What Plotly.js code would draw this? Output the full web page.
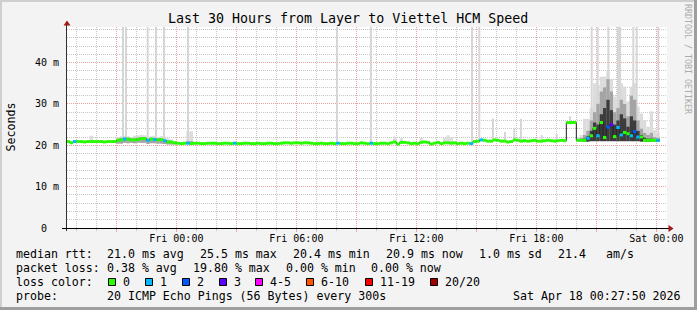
<!DOCTYPE html>
<html>
<head>
<meta charset="utf-8">
<script src="https://cdn.plot.ly/plotly-3.0.1.min.js"></script>
<style>
html,body{margin:0;padding:0;background:#f3f3f3;}
#chart{width:697px;height:310px;}
</style>
</head>
<body>
<div id="chart"></div>
<script>
// ---------------- DATA ----------------
const chartTitle = 'Last 30 Hours from Layer to Viettel HCM Speed';
const firstStep = '2026-04-16 18:30';   // start of the first 10-minute step
const stepMinutes = 10;

// median RTT (ms) per 10-minute step
const medianRtt = [
  20.9, 20.6, 20.9, 20.9, 20.9, 20.8, 20.9, 20.9, 20.9, 20.9,
  20.9, 20.8, 20.9, 20.9, 20.9, 21.2, 21.3, 21.5, 21.5, 21.3,
  21.3, 21.4, 21.6, 21.6, 21.2, 21.5, 21.4, 21.3, 21.4, 21.1,
  20.8, 20.8, 20.6, 20.5, 20.4, 20.5, 20.5, 20.4, 20.5, 20.5,
  20.4, 20.4, 20.5, 20.5, 20.5, 20.4, 20.4, 20.5, 20.5, 20.4,
  20.5, 20.4, 20.4, 20.5, 20.5, 20.4, 20.4, 20.5, 20.4, 20.4,
  20.5, 20.5, 20.4, 20.4, 20.5, 20.6, 20.6, 20.5, 20.6, 20.6,
  20.5, 20.6, 20.6, 20.5, 20.4, 20.4, 20.5, 20.4, 20.4, 20.5,
  20.4, 20.5, 20.4, 20.4, 20.5, 20.5, 20.4, 20.4, 20.6, 20.5,
  20.4, 20.5, 20.4, 20.4, 20.5, 20.5, 20.4, 20.6, 20.8, 20.3,
  20.7, 20.7, 20.6, 20.4, 20.5, 20.4, 20.7, 20.8, 20.7, 20.3,
  20.5, 20.7, 20.4, 20.6, 20.6, 20.5, 20.6, 20.4, 20.5, 20.4,
  20.5, 20.4, 20.9, 21.0, 21.3, 21.2, 21.0, 21.0, 21.3, 21.2,
  21.0, 21.0, 20.8, 20.9, 21.3, 21.2, 21.0, 21.1, 21.0, 21.1,
  21.2, 21.0, 21.0, 21.1, 21.2, 21.1, 21.0, 21.1, 21.2, 21.1,
  25.5, 25.5, 25.5, 21.2, 21.2, 21.2, 21.7, 22.3, 24.1, 22.3,
  25.5, 21.9, 24.4, 25.0, 22.1, 24.3, 22.5, 23.1, 22.8, 22.3,
  23.3, 22.0, 22.0, 21.2, 21.2, 21.2, 21.2, 21.2
];

// steps with lost pings (out of 20) - all other steps lost 0
const lossStep  = [2, 17, 24, 26, 29, 36, 50, 81, 91, 121, 124, 156, 159, 162, 163, 165, 166, 169, 170, 171, 177];
const lossPings = [1,  1,  1,  1,  1,  1,  1,  1,  1,   1,   1,   1,   1,   2,   3,   1,   1,   1,   2,   1,   1];

// smoke (ping spread) per step: min, max, upper-quartile-ish, dense core
const smokeStep  = [7, 15, 16, 17, 18, 19, 20, 21, 22, 23, 24, 25, 26, 27, 28, 29, 30, 31, 32, 36, 37,
                    98, 100, 106, 113, 114, 115,
                    153, 154, 155, 156, 157, 158, 159, 160, 161, 162, 163, 164, 165, 166, 167, 168, 169, 170,
                    171, 172, 173, 174, 175, 176, 177];
const smokeMin   = [20.6, 20.4, 20.4, 20.6, 20.5, 20.6, 20.5, 20.6, 20.6, 20.6, 20.3, 20.5, 20.5, 20.4, 20.4, 20.3, 20.2, 20.2, 20.2, 20.3, 20.3,
                    20.5, 20.5, 20.5, 20.4, 20.4, 20.4,
                    20.9, 20.9, 20.9, 20.9, 21.0, 21.0, 21.0, 21.0, 21.0, 21.0, 21.0, 21.0, 21.0, 21.0, 21.0, 21.0, 21.0, 21.0,
                    21.0, 20.9, 20.9, 20.9, 20.9, 20.9, 20.9];
const smokeMax   = [22.3, 22.0, 22.2, 22.3, 22.2, 22.0, 22.3, 22.4, 22.5, 22.4, 22.0, 22.2, 22.3, 22.0, 22.2, 21.8, 21.7, 21.4, 21.0, 23.4, 23.4,
                    22.1, 21.7, 21.8, 21.8, 22.4, 21.9,
                    22.0, 22.5, 26.4, 26.4, 29.0, 35.0, 34.6, 36.6, 36.6, 38.2, 36.0, 31.8, 31.0, 35.0, 34.2, 30.6, 34.2, 35.0,
                    29.4, 27.7, 26.1, 24.5, 28.2, 23.7, 23.0];
const smokeUpper = [null, 21.6, 21.8, 21.9, 21.8, 21.7, 21.8, 21.9, 22.0, 22.0, 21.6, 21.8, 21.8, 21.7, 21.7, 21.4, 21.2, 21.0, 20.8, 21.0, 21.0,
                    null, null, null, null, null, null,
                    21.5, 21.8, 22.5, 23.5, 26.0, 28.0, 30.0, 33.0, 34.0, 36.0, 33.0, 28.0, 29.0, 31.0, 30.0, 27.0, 32.0, 31.0,
                    26.0, 24.0, 23.0, 22.5, 23.0, 22.0, 21.8];
const smokeCore  = [null, null, null, null, null, null, null, null, null, null, null, null, null, null, null, null, null, null, null, null, null,
                    null, null, null, null, null, null,
                    null, null, 21.6, 22.2, 23.5, 25.5, 25.0, 27.5, 29.0, 31.0, 28.5, 25.0, 26.0, 27.5, 26.5, 24.5, 27.0, 26.0,
                    23.5, 22.5, 21.8, 21.6, 21.6, 21.4, 21.4];

// single-ping outliers (thin light smoke spikes)
const spikeTime = ['2026-04-16 21:20', '2026-04-16 21:29', '2026-04-16 22:34', '2026-04-16 22:59', '2026-04-16 23:23',
                   '2026-04-17 00:35', '2026-04-17 08:02', '2026-04-17 09:44', '2026-04-17 14:47', '2026-04-17 15:09',
                   '2026-04-17 15:50', '2026-04-17 16:26', '2026-04-17 16:54', '2026-04-17 17:14', '2026-04-17 18:16',
                   '2026-04-17 19:01', '2026-04-17 19:41', '2026-04-17 20:46', '2026-04-17 21:04', '2026-04-17 21:36',
                   '2026-04-17 22:05', '2026-04-17 22:11', '2026-04-17 22:51', '2026-04-17 23:01', '2026-04-18 00:06'];
const spikeLow  = [21.2, 21.2, 21.2, 21.2, 21.0, 20.6, 20.6, 20.6, 20.6, 21.0,
                   21.0, 21.0, 21.0, 21.0, 21.0, 21.0, 25.0, 21.0, 21.0, 21.0,
                   21.0, 21.0, 21.0, 21.0, 21.0];
const spikeHigh = [60, 60, 60, 60, 60, 60, 60, 60, 60, 60,
                   26.5, 23.2, 24.1, 26.4, 22.5, 22.7, 27.0, 60, 60, 60,
                   60, 60, 60, 60, 60];

// axes
const xRange = ['2026-04-16 18:32', '2026-04-18 00:32'];
const xTickVals = ['2026-04-16 21:00', '2026-04-17 00:00', '2026-04-17 03:00', '2026-04-17 06:00', '2026-04-17 09:00',
                   '2026-04-17 12:00', '2026-04-17 15:00', '2026-04-17 18:00', '2026-04-17 21:00', '2026-04-18 00:00'];
const xTickText = ['', 'Fri 00:00', '', 'Fri 06:00', '', 'Fri 12:00', '', 'Fri 18:00', '', 'Sat 00:00'];
const yRange = [0, 48.6];
const yTickVals = [0, 10, 20, 30, 40];
const yTickText = ['0\u00a0\u00a0', '10 m', '20 m', '30 m', '40 m'];

// loss colour classes
const lossLabels = ['0', '1', '2', '3', '4-5', '6-10', '11-19', '20/20'];
const lossColors = ['#26ff00', '#00b8ff', '#0059ff', '#5e00ff', '#ff00ff', '#ff5500', '#ff0000', '#a00000'];

// legend statistics
const statRtt  = ['21.0 ms avg', '25.5 ms max', '20.4 ms min', '20.9 ms now', '1.0 ms sd', '21.4', 'am/s'];
const statLoss = ['0.38 % avg', '19.80 % max', '0.00 % min', '0.00 % now'];
const probeText = '20 ICMP Echo Pings (56 Bytes) every 300s';
const stampText = 'Sat Apr 18 00:27:50 2026';

// ---------------- BUILD ----------------
const T0 = Date.UTC(2026, 3, 16, 18, 30);
function stepTime(i) {
  return new Date(T0 + i * stepMinutes * 60000).toISOString().slice(0, 16).replace('T', ' ');
}
function lossClass(n) {
  if (n <= 0) return 0; if (n === 1) return 1; if (n === 2) return 2; if (n === 3) return 3;
  if (n <= 5) return 4; if (n <= 10) return 5; if (n <= 19) return 6; return 7;
}
const lossAt = medianRtt.map(() => 0);
lossStep.forEach((s, k) => { lossAt[s] = lossPings[k]; });

const traces = [];
const stepMs = stepMinutes * 60000;
function smokeLayer(top, color) {
  const xs = [], base = [], h = [];
  smokeStep.forEach((s, k) => {
    if (top[k] == null) return;
    xs.push(stepTime(s)); base.push(smokeMin[k]); h.push(top[k] - smokeMin[k]);
  });
  return {type: 'bar', x: xs, base: base, y: h, width: stepMs, offset: 0,
          marker: {color: color, line: {width: 0}}, hoverinfo: 'skip'};
}
traces.push(smokeLayer(smokeMax, '#dcdcdc'));
traces.push({type: 'bar', x: spikeTime, base: spikeLow, y: spikeHigh.map((v, k) => v - spikeLow[k]),
             width: 6 * 60000, offset: -3 * 60000, marker: {color: '#d6d6d6', line: {width: 0}}, hoverinfo: 'skip'});
traces.push(smokeLayer(smokeUpper, '#a4a4a4'));
traces.push(smokeLayer(smokeCore, '#3c3c3c'));

// thin dark median line (connects steps)
const mx = medianRtt.map((v, i) => stepTime(i)).concat([stepTime(medianRtt.length)]);
const my = medianRtt.concat([medianRtt[medianRtt.length - 1]]);
traces.push({type: 'scatter', mode: 'lines', x: mx, y: my, line: {shape: 'hv', width: 1, color: '#202020'}, hoverinfo: 'skip'});

// loss coloured median segments
lossColors.forEach((c, ci) => {
  const xs = [], ys = [];
  medianRtt.forEach((v, i) => {
    if (lossClass(lossAt[i]) !== ci) return;
    xs.push(stepTime(i), stepTime(i + 1), null);
    ys.push(v, v, null);
  });
  if (xs.length) traces.push({type: 'scatter', mode: 'lines', x: xs, y: ys,
      line: {width: 3, color: c}, hoverinfo: 'skip', connectgaps: false});
});

// ---------------- LAYOUT ----------------
const L = 67, R = 667, T = 27, B = 228;
const px = v => (v - L) / (R - L);
const py = v => (B - v) / (B - T);
const MONO = 'DejaVu Sans Mono';
const nb = s => s.replace(/ /g, '\u00a0');

const shapes = [];
function rectPx(x0, y0, x1, y1, fill, lineColor, lw) {
  shapes.push({type: 'rect', xref: 'paper', yref: 'paper', x0: px(x0), x1: px(x1), y0: py(y1), y1: py(y0),
               fillcolor: fill, line: {width: lw || 0, color: lineColor || fill}, layer: 'above'});
}
function linePx(x0, y0, x1, y1, color, w) {
  shapes.push({type: 'line', xref: 'paper', yref: 'paper', x0: px(x0), x1: px(x1), y0: py(y0), y1: py(y1),
               line: {color: color, width: w}, layer: 'above'});
}
function polyPx(pts, color) {
  const d = pts.map((p, k) => (k ? 'L' : 'M') + px(p[0]) + ',' + py(p[1])).join(' ') + ' Z';
  shapes.push({type: 'path', xref: 'paper', yref: 'paper', path: d, fillcolor: color, line: {width: 0}, layer: 'above'});
}
// frame
rectPx(0, 0, 697, 2, '#cfcfcf');
rectPx(0, 0, 2, 310, '#cfcfcf');
rectPx(694, 0, 697, 310, '#9e9e9e');
rectPx(0, 307, 697, 310, '#9e9e9e');
// axes
linePx(66.5, 231, 66.5, 25, '#303030', 1);
linePx(62, 228.5, 669, 228.5, '#000000', 1);
polyPx([[63.5, 25.5], [67, 20.5], [70.5, 25.5]], '#a01818');
polyPx([[668.5, 225], [673.5, 228.5], [668.5, 232]], '#a01818');

const annotations = [];
function textPx(x, y, s, size, opts) {
  annotations.push(Object.assign({xref: 'paper', yref: 'paper', x: px(x), y: py(y), text: nb(s), showarrow: false,
    xanchor: 'left', align: 'left', yanchor: 'middle', borderpad: 0, borderwidth: 0,
    font: {family: MONO, size: size, color: '#000000'}}, opts || {}));
}
textPx(347.8, 18.5, chartTitle, 13.3, {xanchor: 'center', align: 'center'});
textPx(10, 127.5, 'Seconds', 11.6, {xanchor: 'center', align: 'center', textangle: -90});
textPx(688, 59, 'RRDTOOL / TOBI OETIKER', 8.3, {xanchor: 'center', align: 'center', textangle: 90,
       font: {family: MONO, size: 8.3, color: '#ababab'}});

const FS = 11.6;
const y1 = 253.5, y2 = 268, y3 = 282, y4 = 296;
textPx(15.5, y1, 'median rtt:', FS);
const rttX = [106.5, 199.5, 292.5, 385.9, 478.5, 557.5, 605.9];
statRtt.forEach((s, k) => textPx(rttX[k], y1, s, FS));
textPx(15.5, y2, 'packet loss:', FS);
const lossX = [106.5, 193, 286, 371.5];
statLoss.forEach((s, k) => textPx(lossX[k], y2, s, FS));
textPx(15.5, y3, 'loss color:', FS);
const boxX = [108.5, 145.5, 182.5, 219.5, 255.5, 306.5, 365.5, 430.5];
lossLabels.forEach((s, k) => {
  rectPx(boxX[k], 278.5, boxX[k] + 7, 285.5, lossColors[k], '#000000', 1);
  textPx(boxX[k] + 14, y3, s, FS);
});
textPx(15.5, y4, 'probe:', FS);
textPx(106.5, y4, probeText, FS);
textPx(512.5, y4, stampText, FS);

const gridMinor = '#c6c6c6', gridMajor = '#eda3a3';
const layout = {
  width: 697, height: 310,
  margin: {l: L, r: 697 - R, t: T, b: 310 - B, pad: 0},
  paper_bgcolor: '#f3f3f3', plot_bgcolor: '#ffffff',
  showlegend: false, barmode: 'overlay', hovermode: false,
  font: {family: MONO, size: 10, color: '#000000'},
  xaxis: {
    type: 'date', range: xRange, tickmode: 'array', tickvals: xTickVals, ticktext: xTickText,
    showgrid: true, gridcolor: gridMajor, griddash: '1px,1px', gridwidth: 1,
    ticks: 'outside', ticklen: 3, tickcolor: gridMajor, showline: false, zeroline: false,
    ticklabelstandoff: -2,
    tickfont: {family: MONO, size: 10, color: '#000000'}, fixedrange: true,
    minor: {tickmode: 'linear', tick0: '2026-04-16 19:00', dtick: 3600000, showgrid: true,
            gridcolor: gridMinor, griddash: '1px,1px', gridwidth: 1, ticks: 'outside', ticklen: 2, tickcolor: gridMinor}
  },
  yaxis: {
    range: yRange, tickmode: 'array', tickvals: yTickVals, ticktext: yTickText,
    showgrid: true, gridcolor: gridMajor, griddash: '1px,1px', gridwidth: 1,
    ticks: 'outside', ticklen: 5, tickcolor: 'rgba(0,0,0,0)', showline: false, zeroline: false,
    tickfont: {family: MONO, size: 10, color: '#000000'}, fixedrange: true,
    minor: {tickmode: 'linear', tick0: 0, dtick: 2, showgrid: true, gridcolor: gridMinor, griddash: '1px,1px', gridwidth: 1}
  },
  shapes: shapes,
  annotations: annotations
};

Plotly.newPlot('chart', traces, layout, {displayModeBar: false, staticPlot: true});
</script>
</body>
</html>
